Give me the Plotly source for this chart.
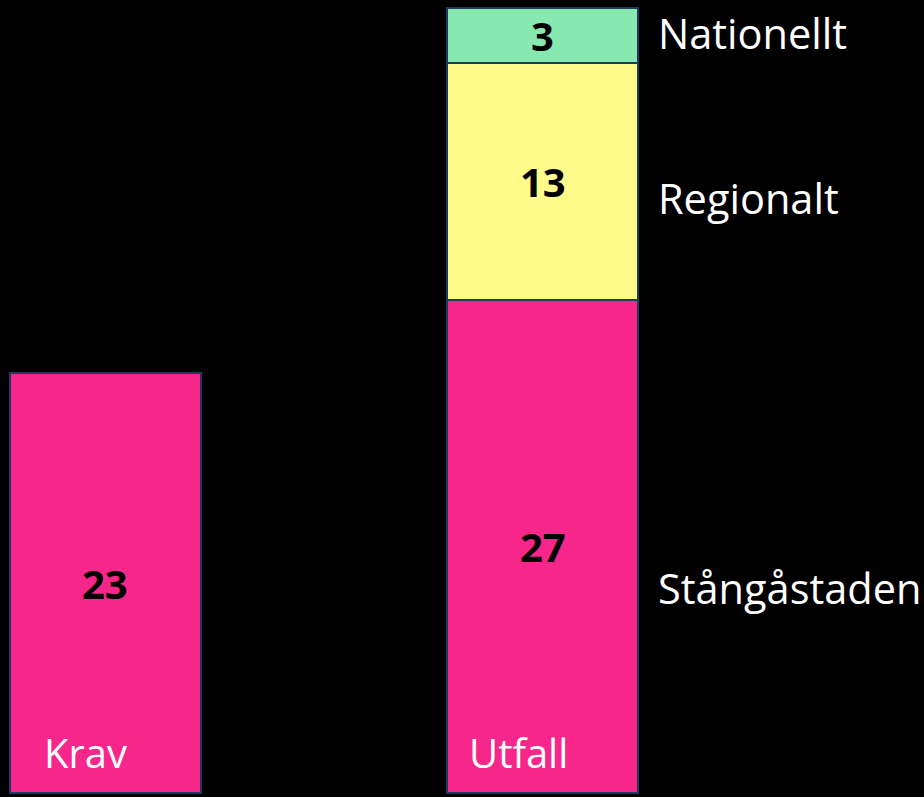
import plotly.graph_objects as go

categories = ["Krav", "Utfall"]
krav_value = [23]
segment_names = ["Stångåstaden", "Regionalt", "Nationellt"]
segment_values = [27, 13, 3]
segment_colors = ["#F7268A", "#FFFB8A", "#88E9B0"]
krav_color = "#F7268A"
label_shift = [-41, -17, 2]

FONT = "Open Sans"
EDGE = dict(color="#1F3A5F", width=2)
BW = 0.437

fig = go.Figure()
fig.add_trace(go.Bar(x=[0], y=krav_value, width=BW, marker=dict(color=krav_color, line=EDGE),
                     name=categories[0], hoverinfo="skip"))
for n, v, c in zip(segment_names, segment_values, segment_colors):
    fig.add_trace(go.Bar(x=[1], y=[v], width=BW, marker=dict(color=c, line=EDGE),
                         name=n, hoverinfo="skip"))

ann = []
# value labels
ann.append(dict(x=0, y=krav_value[0] / 2, text="<b>%d</b>" % krav_value[0], showarrow=False,
                font=dict(family=FONT, size=40, color="black")))
base = 0
for n, v, s in zip(segment_names, segment_values, label_shift):
    ann.append(dict(x=1, y=base + v / 2, text="<b>%d</b>" % v, showarrow=False,
                    font=dict(family=FONT, size=40, color="black")))
    ann.append(dict(x=1 + BW / 2, y=base + v / 2, xanchor="left", xshift=18, yshift=s,
                    text=n, showarrow=False, font=dict(family=FONT, size=41.5, color="white")))
    base += v
# category labels inside bars at bottom
for i, c in enumerate(categories):
    ann.append(dict(x=i, y=0, yanchor="middle", yshift=40, xshift=-20 - 4 * i, text=c, showarrow=False,
                    font=dict(family=FONT, size=40, color="white")))

fig.update_layout(
    width=924, height=797, margin=dict(l=0, r=0, t=0, b=0),
    paper_bgcolor="black", plot_bgcolor="black",
    barmode="stack", showlegend=False, annotations=ann,
    xaxis=dict(range=[-0.2414, 1.873], visible=False),
    yaxis=dict(range=[-0.22, 43.44], visible=False),
)
fig.write_html("out.html")
